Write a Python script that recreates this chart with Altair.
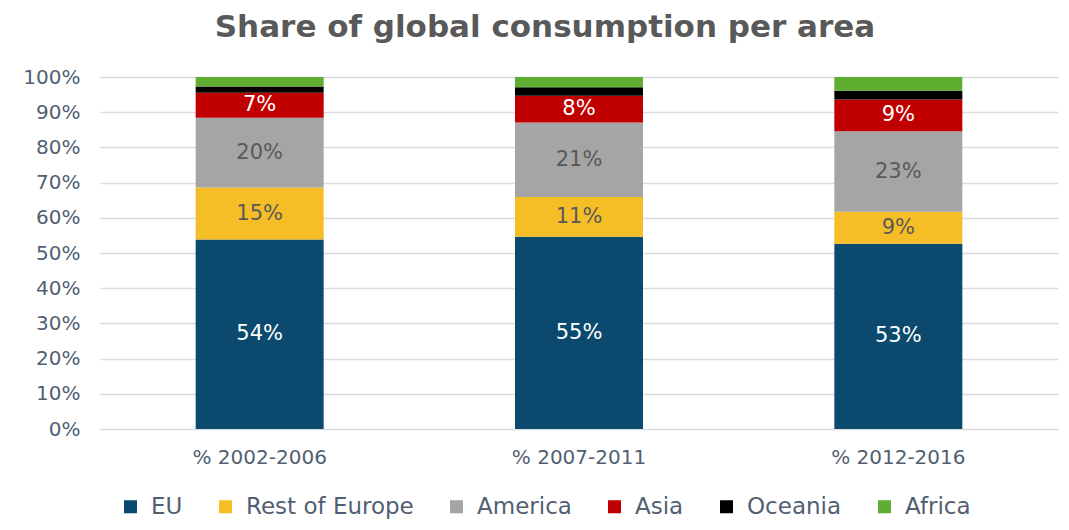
import altair as alt
import pandas as pd

periods = ["% 2002-2006", "% 2007-2011", "% 2012-2016"]
areas = ["EU", "Rest of Europe", "America", "Asia", "Oceania", "Africa"]
eu = [53.8, 54.6, 52.6]
rest_of_europe = [14.8, 11.3, 9.1]
america = [19.8, 21.2, 22.9]
asia = [7.1, 7.6, 9.0]
oceania = [1.8, 2.4, 2.5]
africa = [2.7, 2.9, 3.9]
y_ticks = [0, 10, 20, 30, 40, 50, 60, 70, 80, 90, 100]
area_colors = ["#0B4A6E", "#F6BE26", "#A5A5A5", "#C00000", "#000000", "#5FAE32"]
label_colors = ["#FFFFFF", "#595959", "#595959", "#FFFFFF", "", ""]

series = [eu, rest_of_europe, america, asia, oceania, africa]
rows = []
for ai, (area, vals) in enumerate(zip(areas, series)):
    for pi, period in enumerate(periods):
        rows.append({
            "period": period,
            "area": area,
            "idx": ai,
            "value": vals[pi],
            "label": f"{round(vals[pi])}%" if label_colors[ai] else "",
            "tc": label_colors[ai] or "#000000",
        })
df = pd.DataFrame(rows)

FONT = "DejaVu Sans"
AXIS_COLOR = "#525F72"

x_axis = alt.Axis(title=None, labelAngle=0, labelFontSize=20, labelFont=FONT,
                  labelColor=AXIS_COLOR, ticks=False, domain=False, labelPadding=18)
y_axis = alt.Axis(title=None, values=y_ticks, tickCount=11, labelOverlap=False,
                  labelExpr="datum.value + '%'", labelFontSize=20, labelFont=FONT,
                  labelColor=AXIS_COLOR, ticks=False, domain=False,
                  gridColor="#D9DCE1", gridWidth=1.5, labelPadding=20)
x_scale = alt.Scale(paddingInner=0.6, paddingOuter=0.3)
y_scale = alt.Scale(domain=[0, 100], nice=False)

base = alt.Chart(df)

bars = base.mark_bar(size=128).encode(
    x=alt.X("period:N", sort=periods, scale=x_scale, axis=x_axis),
    y=alt.Y("value:Q", stack=True, scale=y_scale, axis=y_axis),
    color=alt.Color("area:N", sort=areas,
                    scale=alt.Scale(domain=areas, range=area_colors),
                    legend=alt.Legend(title=None, orient="none", direction="horizontal",
                                      legendX=19, legendY=418, padding=0,
                                      labelFontSize=23, labelFont=FONT, labelColor=AXIS_COLOR,
                                      labelLimit=400,
                                      symbolType="square", symbolSize=170, symbolStrokeWidth=0,
                                      columnPadding=31, labelOffset=9)),
    order=alt.Order("idx:Q"),
)

labels = base.transform_stack(
    stack="value", groupby=["period"], as_=["y0", "y1"],
    sort=[alt.SortField("idx", order="ascending")]
).transform_filter(
    "datum.label != ''"
).transform_calculate(
    mid="(datum.y0 + datum.y1) / 2"
).mark_text(fontSize=21, font=FONT, baseline="middle").encode(
    x=alt.X("period:N", sort=periods, scale=x_scale, axis=x_axis),
    y=alt.Y("mid:Q", scale=y_scale, axis=y_axis),
    text="label:N",
    color=alt.Color("tc:N", scale=None),
)

chart = alt.layer(bars, labels).properties(
    width=958,
    height=352,
    padding={"left": 92, "top": 69, "right": 3, "bottom": 93},
    autosize=alt.AutoSizeParams(type="none"),
    title=alt.TitleParams("Share of global consumption per area", fontSize=31,
                          font=FONT, fontWeight="bold", color="#595959",
                          anchor="middle", dx=-34, offset=23),
).configure_view(stroke=None)

chart.save("out.html", embed_options={"renderer": "svg", "actions": False})
